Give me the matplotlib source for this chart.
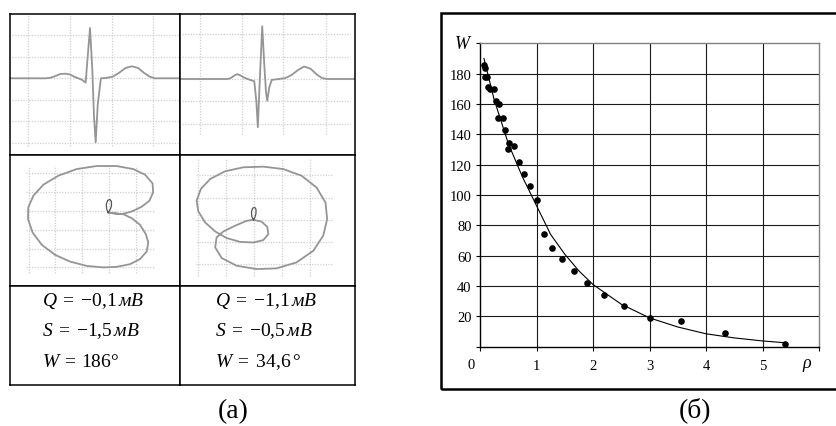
import matplotlib
matplotlib.use('Agg')
import matplotlib.pyplot as plt
from matplotlib.patches import Rectangle

plt.rcParams['font.family'] = ['Liberation Serif', 'DejaVu Serif']
plt.rcParams['mathtext.fontset'] = 'custom'
plt.rcParams['mathtext.rm'] = 'Liberation Serif'
plt.rcParams['mathtext.it'] = 'Liberation Serif:italic'
plt.rcParams['mathtext.bf'] = 'Liberation Serif:bold'

# --- (a) ЭКГ: время (с), амплитуда (мВ) ---
ecg1_t = [0.0, 0.17, 0.19, 0.215, 0.24, 0.265, 0.285, 0.305, 0.325, 0.345, 0.36, 0.37,
          0.381, 0.392, 0.40, 0.408, 0.418, 0.433, 0.46, 0.49, 0.52, 0.55, 0.58, 0.61,
          0.64, 0.665, 0.69, 0.81]
ecg1_v = [0, 0, 0.01, 0.05, 0.10, 0.107, 0.09, 0.04, 0.0, -0.04, -0.1, 0.5,
          1.17, 0.2, -0.9, -1.49, -0.6, 0, 0.01, 0.04, 0.13, 0.24, 0.28, 0.24,
          0.12, 0.04, 0, 0]

ecg2_t = [0.0, 0.225, 0.24, 0.255, 0.271, 0.287, 0.30, 0.315, 0.332, 0.352, 0.362, 0.369,
          0.379, 0.39, 0.40, 0.408, 0.414, 0.423, 0.435, 0.47, 0.50, 0.53, 0.56, 0.589,
          0.62, 0.65, 0.675, 0.70, 0.83]
ecg2_v = [0, 0, 0.02, 0.07, 0.11, 0.08, 0.04, 0.01, -0.02, -0.05, -0.5, -1.08,
          0.05, 1.18, 0.3, -0.3, -0.49, -0.2, -0.02, 0, 0.02, 0.09, 0.2, 0.28,
          0.23, 0.1, 0.02, 0, 0]

# --- (a) векторные петли ---
loop1_x = [-0.04, 0.25, 0.52, 0.83, 1.14, 1.36, 1.45, 1.39, 1.14, 0.77, 0.27, -0.22,
           -0.84, -1.46, -2.02, -2.51, -2.85, -3.02, -3.01, -2.82, -2.45, -1.89, -1.21,
           -0.47, 0.27, 0.89, 1.33, 1.61, 1.63, 1.49, 1.20, 0.83, 0.46, 0.15, -0.04]
loop1_y = [-0.09, -0.14, -0.18, -0.39, -0.74, -1.24, -1.68, -2.16, -2.56, -2.83, -2.97, -3.00,
           -2.92, -2.69, -2.33, -1.80, -1.15, -0.44, 0.18, 0.80, 1.38, 1.86, 2.21,
           2.37, 2.37, 2.21, 1.91, 1.45, 0.97, 0.53, 0.21, -0.04, -0.18, -0.14, -0.09]
knot1_x = [-0.04, -0.10, -0.11, -0.06, 0.02, 0.08, 0.08, 0.03, -0.04]
knot1_y = [-0.09, 0.10, 0.35, 0.55, 0.60, 0.50, 0.25, 0.05, -0.09]

loop2_x = [-0.02, 0.27, 0.47, 0.51, 0.33, -0.02, -0.50, -0.97, -1.38, -1.74, -1.98, -2.04,
           -1.89, -1.56, -1.03, -0.38, 0.33, 1.04, 1.69, 2.22, 2.54, 2.60, 2.46, 2.11,
           1.51, 0.80, 0.09, -0.62, -1.15, -1.38, -1.33, -1.09, -0.67, -0.26, -0.02]
loop2_y = [0.0, -0.09, -0.32, -0.65, -0.92, -1.03, -1.00, -0.83, -0.53, -0.12, 0.38, 0.86,
           1.39, 1.84, 2.19, 2.37, 2.40, 2.29, 1.99, 1.46, 0.78, 0.03, -0.72, -1.40,
           -1.93, -2.20, -2.23, -2.08, -1.73, -1.25, -0.80, -0.53, -0.27, -0.05, 0.0]
knot2_x = [-0.02, -0.08, -0.09, -0.05, 0.02, 0.07, 0.07, 0.03, -0.02]
knot2_y = [0.0, 0.15, 0.35, 0.52, 0.56, 0.48, 0.28, 0.10, 0.0]

cell_texts_left = [r'$Q\;=\;{-}0{,}1\,мВ$', r'$S\;=\;{-}1{,}5\,мВ$', r'$W\;=\,186°$']
cell_texts_right = [r'$Q\;=\;{-}1{,}1\,мВ$', r'$S\;=\;{-}0{,}5\,мВ$', r'$W\;=\;34{,}6\,°$']

# --- (б) W(ρ) ---
rho = [0.07, 0.08, 0.08, 0.13, 0.14, 0.17, 0.24, 0.28, 0.33, 0.31, 0.40, 0.45, 0.52, 0.50,
       0.60, 0.69, 0.78, 0.88, 1.01, 1.14, 1.28, 1.46, 1.66, 1.90, 2.20, 2.55, 3.00, 3.56,
       4.33, 5.40]
w_val = [186, 184, 178, 178, 171, 170, 170, 162, 160, 151, 151, 143, 134, 130,
         132, 122, 114, 106, 97, 74, 65, 58, 50, 42, 34, 27, 19, 17,
         9, 2]
rho_fit = [0.07, 0.25, 0.5, 0.75, 1.0, 1.25, 1.5, 1.75, 2.0, 2.5, 3.0, 3.5, 4.0, 4.5, 5.0, 5.4]
w_fit = [190, 163, 134, 112, 93, 74, 61, 50, 41, 28, 19, 13, 8.5, 5.8, 3.8, 2.6]
x_ticks = [0, 1, 2, 3, 4, 5, 6]
x_labels = ['', '1', '2', '3', '4', '5', '']
y_ticks = [0, 20, 40, 60, 80, 100, 120, 140, 160, 180, 200]
y_labels = ['', '20', '40', '60', '80', '100', '120', '140', '160', '180', '']

W_PX, H_PX = 836, 427
fig = plt.figure(figsize=(8.36, 4.27), dpi=100)


def px_axes(x0, y0, x1, y1):
    return fig.add_axes([x0 / W_PX, 1 - y1 / H_PX, (x1 - x0) / W_PX, (y1 - y0) / H_PX])


def cell(x0, y0, x1, y1):
    ax = px_axes(x0, y0, x1, y1)
    ax.set_xticks([])
    ax.set_yticks([])
    for s in ax.spines.values():
        s.set_linewidth(1.1)
        s.set_color('black')
    return ax


def dotted_grid(ax, xs, ys, xspan, yspan):
    kw = dict(colors='#cfcfcf', linestyles=(0, (1, 1.2)), lw=0.9, zorder=0)
    ax.vlines(xs, yspan[0], yspan[1], **kw)
    ax.hlines(ys, xspan[0], xspan[1], **kw)


curve_kw = dict(color='#959595', lw=1.3, solid_joinstyle='round', solid_capstyle='round')

# ячейка 1 - ЭКГ
ax1 = cell(10, 15, 180.3, 155.7)
ax1.set_xlim(0, 0.811)
ax1.set_ylim(-1.777, 1.496)
dotted_grid(ax1, [0.086, 0.286, 0.486, 0.681], [-1.5, -1, -0.5, 0, 0.5, 1.0],
            (0.008, 0.80), (-1.57, 1.496))
ax1.plot(ecg1_t, ecg1_v, **curve_kw)

# ячейка 2 - ЭКГ
ax2 = cell(180.3, 15, 355.3, 155.7)
ax2.set_xlim(0, 0.833)
ax2.set_ylim(-1.697, 1.457)
dotted_grid(ax2, [0.094, 0.293, 0.491, 0.694], [-1, -0.5, 0, 0.5, 1.0],
            (0.007, 0.808), (-1.23, 1.457))
ax2.plot(ecg2_t, ecg2_v, **curve_kw)

# ячейка 3 - петля
ax3 = cell(10, 155.7, 180.3, 287.3)
ax3.set_xlim(-3.69, 2.64)
ax3.set_ylim(-4.0, 2.97)
dotted_grid(ax3, [-3, -2, -1, 0, 1], [-3, -2, -1, 0, 1, 2], (-3.1, 1.7), (-3.27, 2.3))
ax3.plot(loop1_x, loop1_y, **curve_kw)
ax3.plot(knot1_x, knot1_y, color='#555555', lw=0.9)

# ячейка 4 - петля
ax4 = cell(180.3, 155.7, 355.3, 287.3)
ax4.set_xlim(-2.62, 3.6)
ax4.set_ylim(-3.01, 2.94)
dotted_grid(ax4, [-2, -1, 0, 1, 2], [-2, -1, 0, 1, 2], (-2.06, 2.76), (-2.53, 2.75))
ax4.plot(loop2_x, loop2_y, **curve_kw)
ax4.plot(knot2_x, knot2_y, color='#555555', lw=0.9)

# ячейки с текстом
cell(10, 287.3, 180.3, 385.7)
cell(180.3, 287.3, 355.3, 385.7)
for i, y in enumerate([306, 336.5, 367]):
    fig.text(41.7 / W_PX, 1 - y / H_PX, cell_texts_left[i], fontsize=14, ha='left', va='baseline')
    fig.text(215 / W_PX, 1 - y / H_PX, cell_texts_right[i], fontsize=14, ha='left', va='baseline')

fig.text(233.5 / W_PX, 1 - 411.7 / H_PX, '(a)', fontsize=20, ha='center', va='center')

# --- (б) ---
fig.add_artist(Rectangle((441 / W_PX, 1 - 390 / H_PX), (845 - 441) / W_PX, (390 - 14) / H_PX,
                         transform=fig.transFigure, fill=False, lw=1.8, ec='black',
                         clip_on=False))

ax = px_axes(480, 44.3, 819, 347.7)
ax.set_xlim(0, 6)
ax.set_ylim(0, 200)
ax.set_xticks(x_ticks)
ax.set_xticklabels(x_labels)
ax.set_yticks(y_ticks)
ax.set_yticklabels(y_labels)
ax.tick_params(direction='out', length=3, width=0.8, labelsize=10.5, pad=3)
ax.tick_params(axis='x', pad=6)
ax.grid(True, color='#1a1a1a', lw=0.8)
for gl in (ax.xaxis.get_gridlines()[0], ax.xaxis.get_gridlines()[-1],
           ax.yaxis.get_gridlines()[0], ax.yaxis.get_gridlines()[-1]):
    gl.set_visible(False)
ax.spines['left'].set_linewidth(1.0)
ax.spines['bottom'].set_linewidth(1.0)
for s in ('top', 'right'):
    ax.spines[s].set_color('#808080')
    ax.spines[s].set_linewidth(1.0)

ax.plot(rho_fit, w_fit, color='black', lw=0.8)
ax.scatter(rho, w_val, s=14, color='black', zorder=3)

ax.text(-0.13, 200, r'$W$', fontsize=13, ha='right', va='center', clip_on=False)
ax.text(-0.15, -7.5, '0', fontsize=10.5, ha='center', va='top', clip_on=False)
ax.text(5.8, -6, r'$\rho$', fontsize=13, ha='center', va='top', clip_on=False)

fig.text(695 / W_PX, 1 - 410 / H_PX, '(б)', fontsize=20, ha='center', va='center')

fig.savefig('out.png', dpi=100)
